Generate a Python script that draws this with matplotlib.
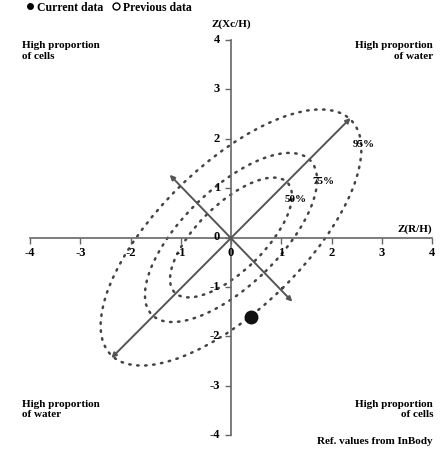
import matplotlib.pyplot as plt
import numpy as np
from matplotlib.patches import Ellipse
from matplotlib.lines import Line2D

# tolerance ellipses (semi axes along / across the 45 degree diagonal)
ellipse_pct = ['50%', '75%', '95%']
ellipse_major = [1.58, 2.22, 3.37]
ellipse_minor = [0.67, 0.97, 1.45]

# data points (Z(R/H), Z(Xc/H))
current_x = [0.40]
current_y = [-1.60]
previous_x = []
previous_y = []

ticks = [-4, -3, -2, -1, 0, 1, 2, 3, 4]

plt.rcParams['font.family'] = ['Liberation Serif', 'DejaVu Serif']
plt.rcParams['font.weight'] = 'bold'

fig = plt.figure(figsize=(4.43, 4.53), dpi=100)
ax = fig.add_axes([30/443, 18/453, 402/443, 395/453])
ax.set_xlim(-4, 4)
ax.set_ylim(-4, 4)

axis_col = '#666666'
for s in ['top', 'right']:
    ax.spines[s].set_visible(False)
ax.spines['left'].set_position('zero')
ax.spines['bottom'].set_position('zero')
ax.spines['left'].set_color(axis_col)
ax.spines['bottom'].set_color(axis_col)
ax.spines['left'].set_linewidth(1.2)
ax.spines['bottom'].set_linewidth(1.2)
ax.set_xticks(ticks)
ax.set_yticks(ticks)
ax.set_xticklabels([])
ax.set_yticklabels([])
ax.tick_params(axis='both', color=axis_col, length=4, width=1.0, direction='out')

# tick labels
for t in ticks:
    ax.text(t, -0.2, str(t), ha='center', va='top', fontsize=9, fontweight='bold')
    ax.text(-0.22, t, str(t), ha='right', va='center', fontsize=9, fontweight='bold')

ax.text(4.0, 0.08, 'Z(R/H)', ha='right', va='bottom', fontsize=8, fontweight='bold')
ax.text(0.0, 4.22, 'Z(Xc/H)', ha='center', va='bottom', fontsize=8, fontweight='bold', clip_on=False)

# ellipses
for a, b in zip(ellipse_major, ellipse_minor):
    e = Ellipse((0, 0), 2 * a, 2 * b, angle=45, fill=False, edgecolor='#444444',
                linewidth=1.8, linestyle=(0, (0.6, 2.6)), capstyle='round', zorder=2)
    ax.add_patch(e)

# major and minor axes of the ellipses
arrow = dict(arrowstyle='<|-|>', color='#555555', lw=1.4, mutation_scale=7, shrinkA=0, shrinkB=0)
ax.annotate('', xy=(2.38, 2.42), xytext=(-2.38, -2.44), arrowprops=arrow)
ax.annotate('', xy=(-1.22, 1.27), xytext=(1.22, -1.30), arrowprops=arrow)

ax.text(1.29, 0.77, ellipse_pct[0], ha='center', va='center', fontsize=8, fontweight='bold')
ax.text(1.84, 1.13, ellipse_pct[1], ha='center', va='center', fontsize=8, fontweight='bold')
ax.text(2.65, 1.88, ellipse_pct[2], ha='center', va='center', fontsize=8, fontweight='bold')

# points
ax.plot(previous_x, previous_y, 'o', mfc='white', mec='k', ms=8, zorder=4)
ax.plot(current_x, current_y, 'o', color='#111111', ms=9, zorder=5)

# corner notes
fs = 8
ax.text(-4.15, 3.97, 'High proportion\nof cells', ha='left', va='top', fontsize=fs,
        fontweight='bold', linespacing=1.15, clip_on=False)
ax.text(4.02, 3.97, 'High proportion\nof water', ha='right', va='top', fontsize=fs,
        fontweight='bold', linespacing=1.15, multialignment='right', clip_on=False)
ax.text(-4.15, -3.3, 'High proportion\nof water', ha='left', va='top', fontsize=fs,
        fontweight='bold', linespacing=1.15, clip_on=False)
ax.text(4.02, -3.3, 'High proportion\nof cells', ha='right', va='top', fontsize=fs,
        fontweight='bold', linespacing=1.15, multialignment='right', clip_on=False)
ax.text(4.02, -4.05, 'Ref. values from InBody', ha='right', va='top', fontsize=fs,
        fontweight='bold', clip_on=False)

handles = [Line2D([], [], marker='o', color='k', ls='none', ms=4),
           Line2D([], [], marker='o', mfc='white', mec='k', ls='none', ms=5)]
fig.legend(handles, ['Current data', 'Previous data'], loc='upper left',
           bbox_to_anchor=(0.035, 1.02), ncol=2, frameon=False, fontsize=8.5,
           handlelength=0.6, handletextpad=0.3, columnspacing=0.8)

plt.savefig('out.png', dpi=100)
